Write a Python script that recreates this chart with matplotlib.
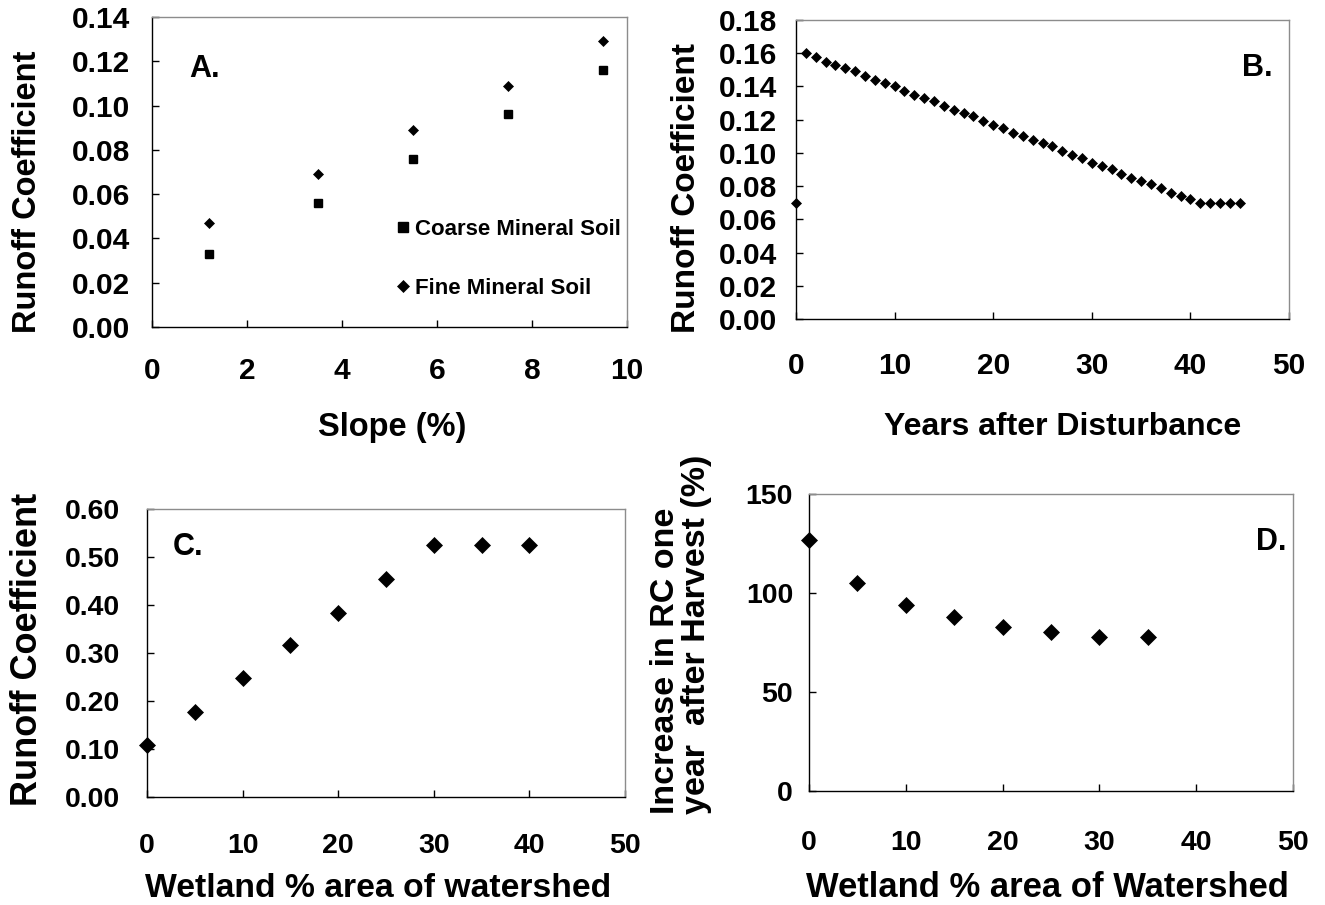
import matplotlib
matplotlib.use("Agg")
import matplotlib.pyplot as plt
from matplotlib.ticker import FormatStrFormatter

plt.rcParams["font.family"] = ["Liberation Sans", "DejaVu Sans"]
plt.rcParams["font.weight"] = "bold"
plt.rcParams["axes.labelweight"] = "bold"

# panel A: runoff coefficient vs slope
slope = [1.2, 3.5, 5.5, 7.5, 9.5]
rc_coarse = [0.033, 0.056, 0.076, 0.096, 0.116]
rc_fine = [0.047, 0.069, 0.089, 0.109, 0.129]

# panel B: runoff coefficient vs years after disturbance
years = list(range(0, 46))
rc_years = [0.070, 0.160, 0.158, 0.155, 0.153, 0.151, 0.149, 0.146, 0.144, 0.142,
            0.140, 0.137, 0.135, 0.133, 0.131, 0.128, 0.126, 0.124, 0.122, 0.119,
            0.117, 0.115, 0.112, 0.110, 0.108, 0.106, 0.104, 0.101, 0.099, 0.097,
            0.094, 0.092, 0.090, 0.087, 0.085, 0.083, 0.081, 0.079, 0.076, 0.074,
            0.072, 0.070, 0.070, 0.070, 0.070, 0.070]

# panel C: runoff coefficient vs wetland area
wetland_c = [0, 5, 10, 15, 20, 25, 30, 35, 40]
rc_wetland = [0.108, 0.177, 0.247, 0.317, 0.384, 0.455, 0.524, 0.524, 0.524]

# panel D: increase in RC one year after harvest
wetland_d = [0, 5, 10, 15, 20, 25, 30, 35]
rc_increase = [127, 105, 94, 88, 83, 80.5, 78, 78]

W, H = 1325, 905
fig = plt.figure(figsize=(W / 100, H / 100), dpi=100)


def box(l, t, r, b):
    return [l / W, 1 - b / H, (r - l) / W, (b - t) / H]


def style(ax, tick_size, xpad, ypad):
    ax.spines["left"].set_color("black")
    ax.spines["bottom"].set_color("black")
    ax.spines["top"].set_color("#8c8c8c")
    ax.spines["right"].set_color("#8c8c8c")
    for s in ax.spines.values():
        s.set_linewidth(1.0)
    ax.tick_params(direction="in", length=5, width=1, labelsize=tick_size)
    ax.tick_params(axis="x", pad=xpad)
    ax.tick_params(axis="y", pad=ypad)


axA = fig.add_axes(box(152, 17, 627, 327))
axB = fig.add_axes(box(796, 20, 1289, 319))
axC = fig.add_axes(box(147, 509, 625, 797))
axD = fig.add_axes(box(809, 494, 1293, 791))

# A
axA.plot(slope, rc_coarse, ls="none", marker="s", ms=5.4, color="black", label="Coarse Mineral Soil")
axA.plot(slope, rc_fine, ls="none", marker="D", ms=4.6, mew=0.5, color="black", label="Fine Mineral Soil")
axA.set_xlim(0, 10)
axA.set_ylim(0, 0.14)
axA.set_xticks(range(0, 11, 2))
axA.set_yticks([i * 0.02 for i in range(8)])
axA.yaxis.set_major_formatter(FormatStrFormatter("%.2f"))
style(axA, 21.5, 21.5, 15.5)
axA.set_ylabel("Runoff Coefficient", fontsize=23.5, va="center")
axA.yaxis.set_label_coords(-0.263, 0.435)
axA.set_xlabel("Slope (%)", fontsize=23.5, va="baseline")
axA.xaxis.set_label_coords(0.505, -0.352)
axA.text(0.078, 0.806, "A.", transform=axA.transAxes, fontsize=22, va="baseline")
axA.legend(loc="upper left", bbox_to_anchor=(0.509, 0.348), frameon=False, fontsize=16,
           handlelength=0.8, handletextpad=0.15, labelspacing=1.7, borderpad=0,
           borderaxespad=0, markerscale=1.25)

# B
axB.plot(years, rc_years, ls="none", marker="D", ms=4.8, mew=0.5, color="black", clip_on=False)
axB.set_xlim(0, 50)
axB.set_ylim(0, 0.18)
axB.set_xticks(range(0, 51, 10))
axB.set_yticks([i * 0.02 for i in range(10)])
axB.yaxis.set_major_formatter(FormatStrFormatter("%.2f"))
style(axB, 21.5, 23.8, 13.7)
axB.set_ylabel("Runoff Coefficient", fontsize=24, va="center")
axB.yaxis.set_label_coords(-0.223, 0.438)
axB.set_xlabel("Years after Disturbance", fontsize=23, va="baseline")
axB.xaxis.set_label_coords(0.54, -0.388)
axB.text(0.967, 0.813, "B.", transform=axB.transAxes, fontsize=22, va="baseline", ha="right")

# C
axC.plot(wetland_c, rc_wetland, ls="none", marker="D", ms=8.6, mew=0.5, color="black", clip_on=False)
axC.set_xlim(0, 50)
axC.set_ylim(0, 0.6)
axC.set_xticks(range(0, 51, 10))
axC.set_yticks([i * 0.1 for i in range(7)])
axC.yaxis.set_major_formatter(FormatStrFormatter("%.2f"))
style(axC, 20.5, 26, 19.4)
axC.set_ylabel("Runoff Coefficient", fontsize=26, va="center")
axC.yaxis.set_label_coords(-0.251, 0.514)
axC.set_xlabel("Wetland % area of watershed", fontsize=24.3, va="baseline")
axC.xaxis.set_label_coords(0.483, -0.347)
axC.text(0.054, 0.840, "C.", transform=axC.transAxes, fontsize=22, va="baseline")

# D
axD.plot(wetland_d, rc_increase, ls="none", marker="D", ms=8.6, mew=0.5, color="black", clip_on=False)
axD.set_xlim(0, 50)
axD.set_ylim(0, 150)
axD.set_xticks(range(0, 51, 10))
axD.set_yticks([0, 50, 100, 150])
style(axD, 20.5, 28, 11.5)
axD.set_ylabel("Increase in RC one\nyear  after Harvest (%)", fontsize=24.5, va="center",
               linespacing=1.0, multialignment="left")
axD.yaxis.set_label_coords(-0.264, 0.529)
axD.set_xlabel("Wetland % area of Watershed", fontsize=24.9, va="baseline")
axD.xaxis.set_label_coords(0.492, -0.357)
axD.text(0.986, 0.811, "D.", transform=axD.transAxes, fontsize=22, va="baseline", ha="right")

fig.savefig("out.png", dpi=100)
